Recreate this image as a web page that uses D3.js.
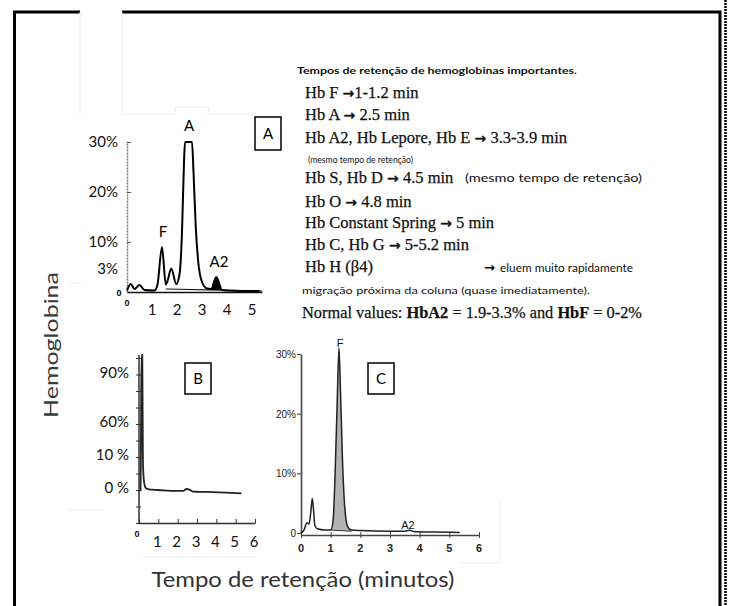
<!DOCTYPE html>
<html>
<head>
<meta charset="utf-8">
<title>Tempos de retenção de hemoglobinas</title>
<script src="https://cdn.jsdelivr.net/npm/d3@7"></script>
<style>
  body { margin: 0; background: #fff; }
  svg { display: block; }
  .sans { font-family: Lato, "Open Sans", sans-serif; }
  .arial { font-family: "Liberation Sans", Arial, sans-serif; }
  .serif { font-family: "Liberation Serif", serif; }
</style>
</head>
<body>
<svg id="fig" width="732" height="606"></svg>
<script>
// ---- data ----
// panel A : normal adult chromatogram (% vs minutes)
const aTime = [0, 0.15, 0.3, 0.5, 0.7, 1.1, 1.22, 1.4, 1.55, 1.62, 1.77, 1.97, 2.1, 2.2, 2.28, 2.32, 2.6, 2.66, 2.75, 2.85, 3.0, 3.2, 3.37, 3.57, 3.8, 4.0, 5.0, 5.3];
const aPct  = [0.3, 1.6, 0.6, 1.4, 0.4, 0.3, 1.5, 9.0, 1.5, 2.2, 4.7, 1.6, 3.5, 12, 26, 30, 30, 24, 13, 6, 2, 0.7, 0.6, 3.0, 0.4, 0.3, 0.2, 0.2];
const aYTicks = [10, 20, 30];
const aYLabels = [30, 20, 10, 3];
const aXLabels = [0, 1, 2, 3, 4, 5];

// panel B
const bTime = [0.08, 0.1, 0.13, 0.17, 0.2, 0.22, 0.27, 0.35, 0.5, 1.0, 2.0, 2.3, 2.45, 2.6, 2.8, 3.5, 4.5, 5.3];
const bPct  = [-1, 20, 101, 101, 10, 5, 1.5, 0, -0.4, -0.6, -0.9, -0.9, -0.3, -0.5, -1.1, -1.2, -1.4, -1.6];
const bYLabels = [90, 60, 10, 0];
const bXLabels = [0, 1, 2, 3, 4, 5, 6];

// panel C
const cTime = [0, 0.1, 0.2, 0.27, 0.33, 0.38, 0.42, 0.47, 0.55, 0.8, 1.0, 1.08, 1.15, 1.22, 1.28, 1.33, 1.4, 1.48, 1.58, 1.7, 2.0, 3.0, 3.5, 3.65, 3.8, 4.5, 5.35];
const cPct  = [0, 0.5, 1.7, 1.5, 3.5, 5.8, 4, 1.2, 0.7, 0.5, 0.5, 2, 10, 22, 31, 24, 12, 4, 1, 0.5, 0.4, 0.3, 0.3, 0.45, 0.25, 0.15, 0.1];
const cYLabels = [0, 10, 20, 30];
const cXLabels = [0, 1, 2, 3, 4, 5, 6];

// text block
const heading = "Tempos de retenção de hemoglobinas importantes.";
const retention = ["Hb F →1-1.2 min", "Hb A → 2.5 min", "Hb A2, Hb Lepore, Hb E → 3.3-3.9 min",
  "Hb S, Hb D → 4.5 min", "Hb O → 4.8 min", "Hb Constant Spring → 5 min", "Hb C, Hb G → 5-5.2 min", "Hb H (β4)"];
const sameTime = "(mesmo tempo de retenção)";
const hbhNote = "eluem muito rapidamente";
const columnNote = "migração próxima da coluna (quase imediatamente).";
const normalParts = ["Normal values: ", "HbA2", " = 1.9-3.3% and ", "HbF", " = 0-2%"];

const svg = d3.select("#fig");

// ---- frame ----
svg.append("path").attr("d", "M14.5,606 V12 H80 M122,12 H720 V606")
  .attr("fill", "none").attr("stroke", "#000").attr("stroke-width", 3);
svg.append("line").attr("x1", 725.5).attr("x2", 725.5).attr("y1", 0).attr("y2", 606)
  .attr("stroke", "#000").attr("stroke-width", 2.5).attr("stroke-dasharray", "2,1");
// faint edges of pasted pictures
svg.append("path")
  .attr("d", "M80,12 V114 M122,12 V114 H175 V107 H209 V114 H255 M70,283 H81 M68,510 H102 M143,557 H255 M460,563 H500 V500")
  .attr("fill", "none").attr("stroke", "#ececec").attr("stroke-width", 1);

// ================= panel A =================
const xA = d3.scaleLinear().domain([0, 5.4]).range([127, 262]);
const yA = d3.scaleLinear().domain([0, 30]).range([292, 142]);
const gA = svg.append("g");
gA.append("g").attr("transform", "translate(127,0)")
  .call(d3.axisRight(yA).tickValues(aYTicks).tickSize(4).tickSizeOuter(0).tickFormat(""))
  .call(g => g.select(".domain").attr("stroke", "#777").attr("stroke-width", 1.5).attr("stroke-dasharray", "2,1"))
  .call(g => g.selectAll(".tick line").attr("stroke", "#555"));
gA.append("g").attr("transform", "translate(0,292)")
  .call(d3.axisBottom(xA).tickValues([]).tickSizeOuter(0))
  .call(g => g.select(".domain").attr("stroke", "#111").attr("stroke-width", 1.5));
gA.selectAll("text.yl").data(aYLabels).join("text").attr("class", "sans")
  .attr("x", 118).attr("y", d => yA(d) + (d === 3 ? -3 : 5))
  .attr("text-anchor", "end").attr("font-size", 15).attr("fill", "#111")
  .text(d => d + "%");
gA.append("text").attr("class", "arial").attr("x", 119).attr("y", 296)
  .attr("font-size", 9).attr("font-weight", "bold").attr("text-anchor", "middle").text("0");
gA.selectAll("text.xl").data(aXLabels).join("text").attr("class", d => d === 0 ? "arial" : "sans")
  .attr("x", d => xA(d)).attr("y", d => d === 0 ? 306 : 315)
  .attr("text-anchor", "middle").attr("font-size", d => d === 0 ? 9 : 15)
  .attr("font-weight", d => d === 0 ? "bold" : "normal").attr("fill", "#111")
  .text(d => d);
const aPts = aTime.map((t, i) => [t, aPct[i]]);
// A2 filled area
const a2Pts = aPts.filter(p => p[0] >= 3.37 && p[0] <= 3.8);
gA.append("path").datum(a2Pts)
  .attr("d", d3.area().x(d => xA(d[0])).y0(yA(0.4)).y1(d => yA(d[1])).curve(d3.curveMonotoneX))
  .attr("fill", "#000");
// integration baseline
gA.append("line").attr("x1", xA(1.55)).attr("y1", yA(0.6)).attr("x2", xA(5.4)).attr("y2", yA(0.2))
  .attr("stroke", "#111").attr("stroke-width", 1.2);
gA.append("path").datum(aPts)
  .attr("d", d3.line().x(d => xA(d[0])).y(d => yA(d[1])).curve(d3.curveMonotoneX))
  .attr("fill", "none").attr("stroke", "#000").attr("stroke-width", 2);
gA.append("text").attr("class", "sans").attr("x", 189).attr("y", 131).attr("font-size", 15).attr("text-anchor", "middle").text("A");
gA.append("text").attr("class", "sans").attr("x", 163).attr("y", 237).attr("font-size", 15).attr("text-anchor", "middle").text("F");
gA.append("text").attr("class", "sans").attr("x", 219).attr("y", 267).attr("font-size", 15).attr("text-anchor", "middle").text("A2");

// ================= panel B =================
const xB = d3.scaleLinear().domain([0, 6]).range([139, 255]);
const yB = d3.scaleLinear().domain([0, 10, 60, 90]).range([488, 455, 422, 373]);
const tickIdx = d3.scaleLinear().domain([0, 10]).range([523, 358]);
const gB = svg.append("g");
gB.append("g").attr("transform", "translate(139,0)")
  .call(d3.axisLeft(tickIdx).ticks(10).tickSize(3).tickSizeOuter(0).tickFormat(""))
  .call(g => g.select(".domain").attr("d", "M0,523 V355").attr("stroke", "#333").attr("stroke-width", 1.5))
  .call(g => g.selectAll(".tick line").attr("x2", -3).attr("x1", 2).attr("stroke", "#333"));
gB.append("g").attr("transform", "translate(0,523)")
  .call(d3.axisTop(xB).tickValues(bXLabels).tickSize(4).tickSizeOuter(0).tickFormat(""))
  .call(g => g.select(".domain").attr("stroke", "#333").attr("stroke-width", 1.5))
  .call(g => g.selectAll(".tick line").attr("stroke", "#333"));
gB.selectAll("text.yl").data(bYLabels).join("text").attr("class", "sans")
  .attr("x", 129).attr("y", d => yB(d) + 5).attr("text-anchor", "end")
  .attr("font-size", 15).attr("fill", "#111")
  .text(d => d >= 60 ? d + "%" : d + " %");
gB.selectAll("text.xl").data(bXLabels).join("text").attr("class", d => d === 0 ? "arial" : "sans")
  .attr("x", d => d === 0 ? 137 : xB(d) - 1).attr("y", d => d === 0 ? 537 : 547)
  .attr("text-anchor", "middle").attr("font-size", d => d === 0 ? 9 : 15)
  .attr("font-weight", d => d === 0 ? "bold" : "normal").attr("fill", "#111")
  .text(d => d);
const bPts = bTime.map((t, i) => [t, bPct[i]]);
gB.append("path").datum(bPts)
  .attr("d", d3.line().x(d => xB(d[0])).y(d => yB(d[1])).curve(d3.curveMonotoneX))
  .attr("fill", "none").attr("stroke", "#222").attr("stroke-width", 1.8);

// ================= panel C =================
const xC = d3.scaleLinear().domain([0, 6]).range([301, 479]);
const yC = d3.scaleLinear().domain([0, 30]).range([533, 354]);
const gC = svg.append("g");
gC.append("g").attr("transform", "translate(301,0)")
  .call(d3.axisLeft(yC).tickValues(cYLabels).tickSize(4).tickSizeOuter(0).tickFormat(""))
  .call(g => g.select(".domain").attr("stroke", "#555").attr("stroke-width", 1.8))
  .call(g => g.selectAll(".tick line").attr("stroke", "#555").attr("stroke-width", 1.2));
gC.append("g").attr("transform", "translate(0,535)")
  .call(d3.axisTop(xC).tickValues(cXLabels).tickSize(3).tickSizeOuter(0).tickFormat(""))
  .call(g => g.select(".domain").attr("stroke", "#444").attr("stroke-width", 1.5))
  .call(g => g.selectAll(".tick line").attr("y2", -3).attr("y1", 3).attr("stroke", "#444"));
gC.selectAll("text.yl").data(cYLabels).join("text").attr("class", "arial")
  .attr("x", 296).attr("y", d => yC(d) + 4).attr("text-anchor", "end")
  .attr("font-size", 10).attr("fill", "#222")
  .text(d => d === 0 ? "0" : d + "%");
gC.selectAll("text.xl").data(cXLabels).join("text").attr("class", "arial")
  .attr("x", d => xC(d)).attr("y", 552).attr("text-anchor", "middle")
  .attr("font-size", 11).attr("font-weight", "bold").attr("fill", "#222")
  .text(d => d);
const cPts = cTime.map((t, i) => [t, cPct[i]]);
const fPts = cPts.filter(p => p[0] >= 1.0 && p[0] <= 1.7);
gC.append("path").datum(fPts)
  .attr("d", d3.area().x(d => xC(d[0])).y0(d => yC(0.5 - (d[0] - 1) * 0.3)).y1(d => yC(d[1])).curve(d3.curveMonotoneX))
  .attr("fill", "#b3b3b3");
gC.append("line").attr("x1", xC(1.0)).attr("y1", yC(0.5)).attr("x2", xC(1.7)).attr("y2", yC(0.29))
  .attr("stroke", "#333").attr("stroke-width", 1);
gC.append("path").datum(cPts)
  .attr("d", d3.line().x(d => xC(d[0])).y(d => yC(d[1])).curve(d3.curveMonotoneX))
  .attr("fill", "none").attr("stroke", "#222").attr("stroke-width", 1.5);
gC.append("text").attr("class", "arial").attr("x", 340).attr("y", 347).attr("font-size", 11)
  .attr("fill", "#111").attr("text-anchor", "middle").text("F");
gC.append("text").attr("class", "arial").attr("x", 408).attr("y", 529).attr("font-size", 11)
  .attr("fill", "#111").attr("text-anchor", "middle").text("A2");

// ---- panel boxes ----
const boxes = [{k: "A", x: 255, y: 117, w: 26, h: 33}, {k: "B", x: 185, y: 363, w: 26, h: 31}, {k: "C", x: 368, y: 363, w: 26, h: 31}];
boxes.forEach(b => {
  svg.append("rect").attr("x", b.x).attr("y", b.y).attr("width", b.w).attr("height", b.h)
    .attr("fill", "#fff").attr("stroke", "#000").attr("stroke-width", 1.5);
  svg.append("text").attr("class", "sans").attr("x", b.x + b.w / 2).attr("y", b.y + b.h / 2 + 5.5)
    .attr("text-anchor", "middle").attr("font-size", 15).text(b.k);
});

// ---- text block ----
svg.append("text").attr("class", "sans").attr("x", 297).attr("y", 74)
  .attr("font-size", 10).attr("font-weight", "bold").attr("fill", "#111")
  .attr("textLength", 280).attr("lengthAdjust", "spacingAndGlyphs").text(heading);

const retY = [98, 120, 143, 183, 207, 228, 250, 272];
retention.forEach((s, i) => {
  const t = svg.append("text").attr("class", "serif").attr("x", 305).attr("y", retY[i])
    .attr("font-size", 16.5).attr("fill", "#111").attr("stroke", "#111").attr("stroke-width", 0.25);
  const parts = s.split("→");
  t.append("tspan").text(parts[0]);
  if (parts.length > 1) {
    t.append("tspan").attr("font-family", "DejaVu Sans").attr("font-weight", "bold").attr("font-size", 14).text("→");
    t.append("tspan").text(parts[1]);
  }
});

const small = (x, y, w, size, txt) => svg.append("text").attr("class", "sans")
  .attr("x", x).attr("y", y).attr("font-size", size).attr("fill", "#111")
  .attr("textLength", w).attr("lengthAdjust", "spacingAndGlyphs").text(txt);
small(308, 163, 105, 9.5, sameTime);
small(465, 182, 177, 11, sameTime);
svg.append("text").attr("x", 484).attr("y", 272).attr("font-family", "DejaVu Sans")
  .attr("font-weight", "bold").attr("font-size", 13).text("→");
small(500, 272, 133, 10.5, hbhNote);
small(302, 294, 288, 10, columnNote);

const nv = svg.append("text").attr("class", "serif").attr("x", 302).attr("y", 318)
  .attr("font-size", 16.5).attr("fill", "#111").attr("stroke", "#111").attr("stroke-width", 0.25)
  .attr("textLength", 340).attr("lengthAdjust", "spacingAndGlyphs");
normalParts.forEach((p, i) => nv.append("tspan").attr("font-weight", i % 2 ? "bold" : "normal").text(p));

// ---- axis titles ----
svg.append("text").attr("class", "sans")
  .attr("transform", "translate(58,345) rotate(-90)").attr("text-anchor", "middle")
  .attr("font-size", 19).attr("fill", "#3a3a3a")
  .attr("textLength", 146).attr("lengthAdjust", "spacingAndGlyphs").text("Hemoglobina");
svg.append("text").attr("class", "sans").attr("x", 303).attr("y", 587)
  .attr("text-anchor", "middle").attr("font-size", 21).attr("fill", "#333")
  .attr("textLength", 303).attr("lengthAdjust", "spacingAndGlyphs").text("Tempo de retenção (minutos)");
</script>
</body>
</html>
